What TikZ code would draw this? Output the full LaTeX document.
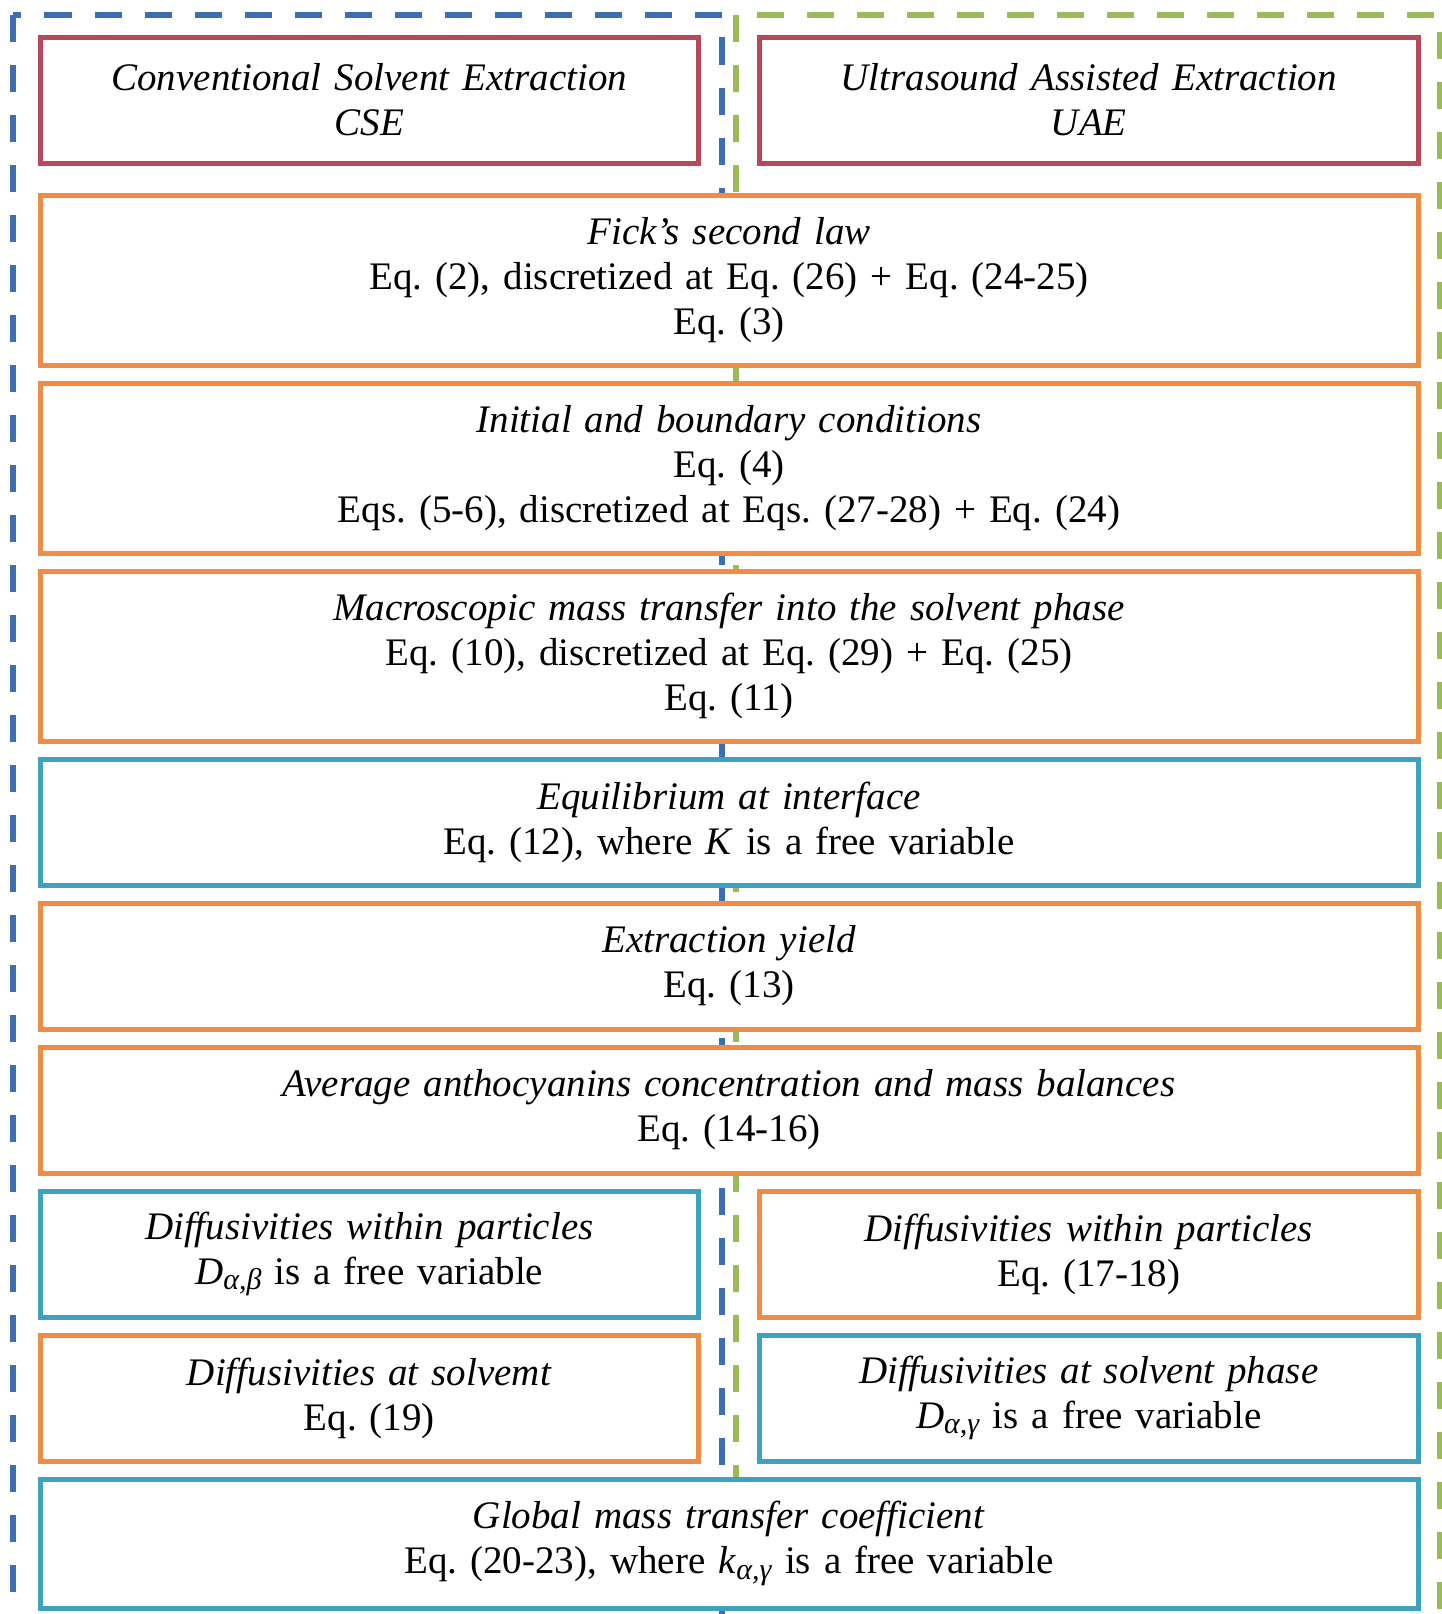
\documentclass[tikz,border=0pt]{standalone}
\usepackage{fontspec}
\setmainfont{Liberation Serif}
\usepackage{xcolor}
\usepackage{tikz}
\usetikzlibrary{positioning}
\frenchspacing
\definecolor{boxred}{HTML}{B8485A}
\definecolor{boxorange}{HTML}{F08C46}
\definecolor{boxblue}{HTML}{3BA3C0}
\definecolor{dashblue}{HTML}{3C6EB4}
\definecolor{dashgreen}{HTML}{9BBB59}
\tikzset{%
	basebox/.style    = {draw, rectangle, fill=white, line width=5pt, inner sep=0pt, outer sep=0pt, align=center, font=\fontsize{39pt}{45pt}\selectfont},
	redbox/.style     = {basebox, draw=boxred},
	orangebox/.style  = {basebox, draw=boxorange},
	bluebox/.style    = {basebox, draw=boxblue},
	widebox/.style    = {minimum width=1378pt, text width=1320pt},
	halfbox/.style    = {minimum width=658.5pt, text width=620pt},
	tallbox/.style    = {minimum height=170pt},
	shortbox/.style   = {minimum height=126pt},
	frameblue/.style  = {draw=dashblue, line width=6pt, dash pattern=on 27pt off 23pt},
	framegreen/.style = {draw=dashgreen, line width=6pt, dash pattern=on 27pt off 23pt},
}
\newcommand{\subsc}[1]{\raisebox{-0.3ex}{\fontsize{30pt}{30pt}\selectfont\textit{#1}}}
\begin{document}
\begin{tikzpicture}[x=1pt, y=1pt]
		\clip (0,0) rectangle (1442,-1614);
		\draw[frameblue] (12.5,-15) rectangle (722,-1660);
		\draw[framegreen] (735.5,-15) rectangle (1439.5,-1660);
		
		\node[redbox, halfbox, shortbox] (cse) at (369.25,-100) {\textit{Conventional Solvent Extraction}\\\textit{CSE}};
		\node[redbox, halfbox, shortbox] (uae) at (1088.75,-100) {\textit{Ultrasound Assisted Extraction}\\\textit{UAE}};
		\node[orangebox, widebox, tallbox] (fick) at (729,-280) {\textit{Fick’s second law}\\Eq. (2), discretized at Eq. (26) + Eq. (24-25)\\Eq. (3)};
		\node[orangebox, widebox, tallbox, below=18pt of fick] (init) {\textit{Initial and boundary conditions}\\Eq. (4)\\Eqs. (5-6), discretized at Eqs. (27-28) + Eq. (24)};
		\node[orangebox, widebox, tallbox, below=18pt of init] (macro) {\textit{Macroscopic mass transfer into the solvent phase}\\Eq. (10), discretized at Eq. (29) + Eq. (25)\\Eq. (11)};
		\node[bluebox, widebox, shortbox, below=18pt of macro] (equil) {\textit{Equilibrium at interface}\\Eq. (12), where \textit{K} is a free variable};
		\node[orangebox, widebox, shortbox, below=18pt of equil] (yield) {\textit{Extraction yield}\\Eq. (13)};
		\node[orangebox, widebox, shortbox, below=18pt of yield] (avg) {\textit{Average anthocyanins concentration and mass balances}\\Eq. (14-16)};
		
		\node[bluebox, halfbox, shortbox, below=18pt of avg.south west, anchor=north west] (diffcse) {\textit{Diffusivities within particles}\\\textit{D}\subsc{α,β} is a free variable};
		\node[orangebox, halfbox, shortbox, below=18pt of avg.south east, anchor=north east] (diffuae) {\textit{Diffusivities within particles}\\Eq. (17-18)};
		\node[orangebox, halfbox, shortbox, below=18pt of diffcse] (solvcse) {\textit{Diffusivities at solvemt}\\Eq. (19)};
		\node[bluebox, halfbox, shortbox, below=18pt of diffuae] (solvuae) {\textit{Diffusivities at solvent phase}\\\textit{D}\subsc{α,γ} is a free variable};
		\node[bluebox, widebox, minimum height=129pt, below=18pt of solvcse.south west, anchor=north west] (global) {\textit{Global mass transfer coefficient}\\Eq. (20-23), where \textit{k}\subsc{α,γ} is a free variable};
\end{tikzpicture}
\end{document}
